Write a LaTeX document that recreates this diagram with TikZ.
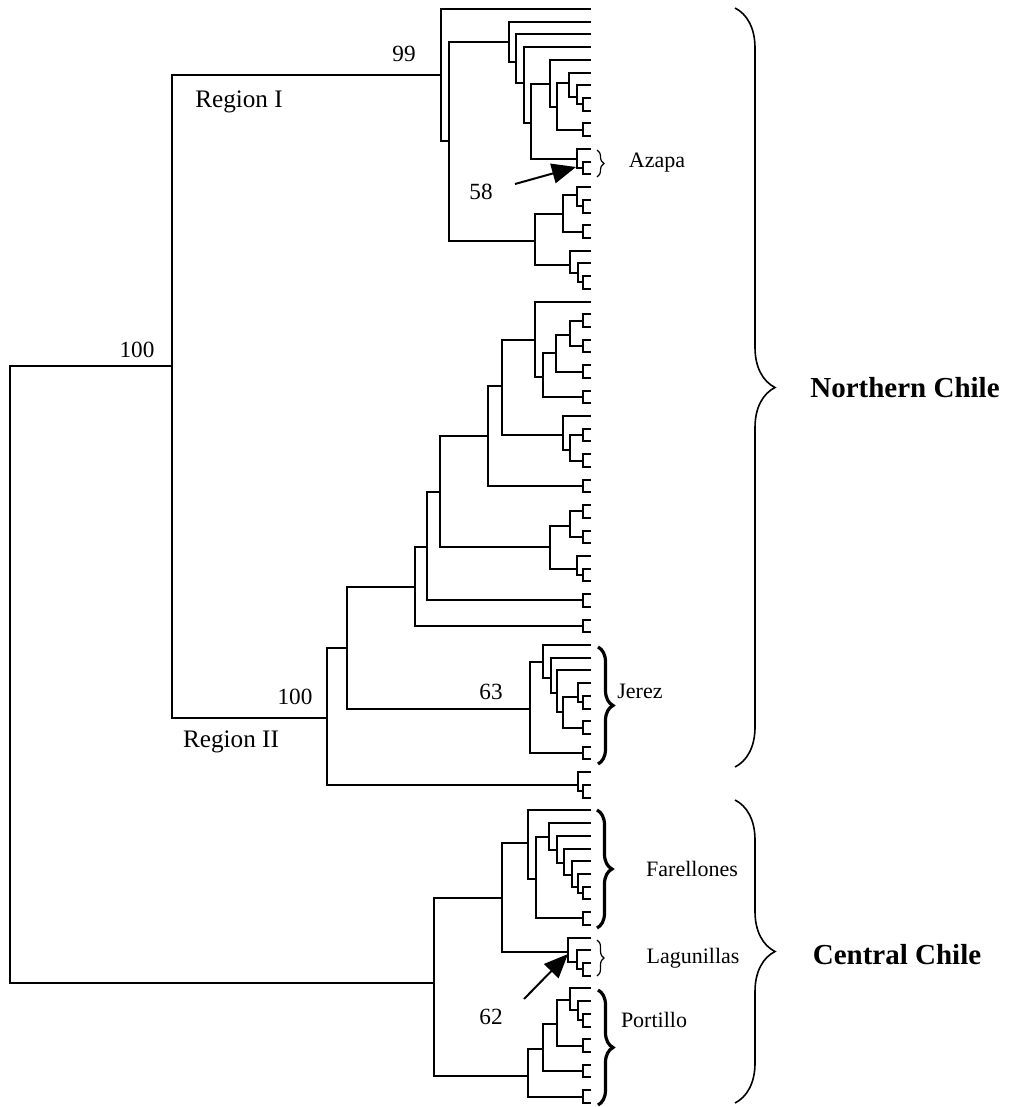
\documentclass[tikz,border=0pt]{standalone}
\usepackage{fontspec}
\setmainfont{Liberation Serif}
\usetikzlibrary{arrows.meta,decorations.pathreplacing}

\begin{document}
\begin{tikzpicture}[x=0.5pt, y=-0.5pt, line width=1pt, font=\fontsize{11}{13}\selectfont,
	arr/.style={line width=1pt, -{Triangle[length=12pt,width=10pt]}},
	bigbrace/.style={decorate, decoration={brace, amplitude=20pt}, line width=0.8pt},
	midbrace/.style={decorate, decoration={brace, amplitude=7.5pt}, line width=1.6pt},
	thinbrace/.style={decorate, decoration={brace, amplitude=3.5pt}, line width=0.6pt},
	num/.style={font=\fontsize{11.6}{14}\selectfont},
	clade/.style={font=\fontsize{12.6}{15}\selectfont},
	region/.style={font=\fontsize{14.5}{17}\selectfont\bfseries}]
			
			\useasboundingbox (0,0) rectangle (1015,1107);
			
			% Foglie (punte dei rami)
			\foreach \i in {1,...,87}
				\coordinate (l\i) at (591, {9+12.72*(\i-1)});
			
			% Coppie di foglie molto vicine
			\foreach \i in {8,10,13,16,18,22,25,27,29,31,34,36,38,40,42,45,47,49,55,57,59,62,70,72,76,80,82,84,86} {
				\coordinate (c\i) at (583, {9+12.72*(\i-0.5)});
			}
			\foreach \i [evaluate=\i as \j using int(\i+1)] in {8,10,13,16,18,22,25,27,29,31,34,36,38,40,42,45,47,49,55,57,59,62,70,72,76,80,82,84,86} {
				\draw (c\i) |- (l\i) (c\i) |- (l\j);
			}
			
			% Nodi interni: radice e Nord
			\coordinate (root) at (10,675);
			\coordinate (nc) at (172,366);
			\coordinate (r1) at (441,75);
			\coordinate (a1) at (449,141);
			\coordinate (a2) at (509,42);
			\coordinate (a3) at (516,62);
			\coordinate (a4) at (524,83);
			\coordinate (a5) at (531,123);
			\coordinate (a6) at (550,84);
			\coordinate (a7) at (557,107);
			\coordinate (a8) at (569,83);
			\coordinate (a9) at (577,97);
			\coordinate (az) at (577,159);
			\coordinate (b1) at (535,241);
			\coordinate (b2) at (563,214);
			\coordinate (b4) at (577,195);
			\coordinate (b3) at (570,265);
			\coordinate (b5) at (578,273);
			\coordinate (r2) at (327,718);
			\coordinate (g) at (578,785);
			\coordinate (s0) at (347,648);
			\coordinate (v1) at (415,587);
			\coordinate (u1) at (427,547);
			\coordinate (s1) at (440,492);
			\coordinate (q0) at (488,436);
			\coordinate (q1) at (502,386);
			\coordinate (p1) at (535,340);
			\coordinate (p2) at (543,377);
			\coordinate (p3) at (556,353);
			\coordinate (p4) at (570,335);
			\coordinate (q2) at (563,435);
			\coordinate (q3) at (570,450);
			\coordinate (t1) at (550,547);
			\coordinate (t2) at (570,526);
			\coordinate (t3) at (577,569);
			\coordinate (j0) at (530,709);
			\coordinate (j1) at (543,662);
			\coordinate (j2) at (551,678);
			\coordinate (j3) at (557,693);
			\coordinate (j4) at (563,712);
			\coordinate (j5) at (578,697);
			
			% Nodi interni: Centro
			\coordinate (cc) at (434,983);
			\coordinate (c1) at (502,898);
			\coordinate (far) at (528,843);
			\coordinate (f2) at (536,879);
			\coordinate (f3) at (549,837);
			\coordinate (f4) at (557,850);
			\coordinate (f5) at (564,863);
			\coordinate (f6) at (572,875);
			\coordinate (f7) at (578,887);
			\coordinate (lag) at (568,952);
			\coordinate (ln2) at (577,962);
			\coordinate (po0) at (528,1076);
			\coordinate (po1) at (543,1049);
			\coordinate (po2) at (557,1024);
			\coordinate (po3) at (570,1000);
			\coordinate (po4) at (578,1010);
			
			% Rami dell'albero
			\foreach \p/\c in {root/nc, root/cc, nc/r1, nc/r2,
				r1/l1, r1/a1, a1/a2, a1/b1, a2/l2, a2/a3, a3/l3, a3/a4,
				a4/l4, a4/a5, a5/a6, a5/az, a6/l5, a6/a7, a7/a8, a7/c10,
				a8/l6, a8/a9, a9/l7, a9/c8, az/l12, az/c13,
				b1/b2, b1/b3, b2/b4, b2/c18, b4/l15, b4/c16,
				b3/l20, b3/b5, b5/l21, b5/c22,
				r2/s0, r2/g, g/l61, g/c62, s0/v1, s0/j0,
				v1/u1, v1/c49, u1/s1, u1/c47, s1/q0, s1/t1,
				q0/q1, q0/c38, q1/p1, q1/q2, p1/l24, p1/p2,
				p2/p3, p2/c31, p3/p4, p3/c29, p4/c25, p4/c27,
				q2/l33, q2/q3, q3/c34, q3/c36,
				t1/t2, t1/t3, t2/c40, t2/c42, t3/l44, t3/c45,
				j0/j1, j0/c59, j1/l51, j1/j2, j2/l52, j2/j3,
				j3/l53, j3/j4, j4/j5, j4/c57, j5/l54, j5/c55,
				cc/c1, cc/po0, c1/far, c1/lag,
				far/l64, far/f2, f2/f3, f2/c72, f3/l65, f3/f4,
				f4/l66, f4/f5, f5/l67, f5/f6, f6/l68, f6/f7,
				f7/l69, f7/c70, lag/l74, lag/ln2, ln2/l75, ln2/c76,
				po0/po1, po0/c86, po1/po2, po1/c84, po2/po3, po2/c82,
				po3/l78, po3/po4, po4/l79, po4/c80} {
				\draw (\p) |- (\c);
			}
			
			% Valori di bootstrap ed etichette dei rami
			\node[num] (n100a) at (137,350) {100};
			\node[num] (n99) at (404,54) {99};
			\node[clade] (regI) at (239,102) {Region I};
			\node[num] (n100b) at (295,697) {100};
			\node[clade] (regII) at (231,742) {Region II};
			\node[num] (n63) at (491,692) {63};
			\node[num] (n58) at (481,192) {58};
			\node[num] (n62) at (491,1017) {62};
			
			% Frecce
			\coordinate (s58) at (515,184);
			\coordinate (t58) at (576,167);
			\draw[arr] (s58) -- (t58);
			\coordinate (s62) at (524,999);
			\coordinate (t62) at (568,954);
			\draw[arr] (s62) -- (t62);
			
			% Graffe delle localita
			\draw[thinbrace] (597,150) -- (597,177);
			\draw[midbrace] (598,647) -- (598,764);
			\draw[midbrace] (597,810) -- (597,928);
			\draw[thinbrace] (597,940) -- (597,976);
			\draw[midbrace] (598,990) -- (598,1105);
			\node (azapa) at (657,163) {Azapa};
			\node (jerez) at (640,691) {Jerez};
			\node (farel) at (692,869) {Farellones};
			\node (lagun) at (693,958) {Lagunillas};
			\node (porti) at (654,1020) {Portillo};
			
			% Graffe grandi e regioni
			\draw[bigbrace] (735,8) -- (735,767);
			\draw[bigbrace] (735,800) -- (735,1103);
			\node[region] (north) at (905,388) {Northern Chile};
			\node[region] (centre) at (897,955) {Central Chile};
			
		\end{tikzpicture}
\end{document}
